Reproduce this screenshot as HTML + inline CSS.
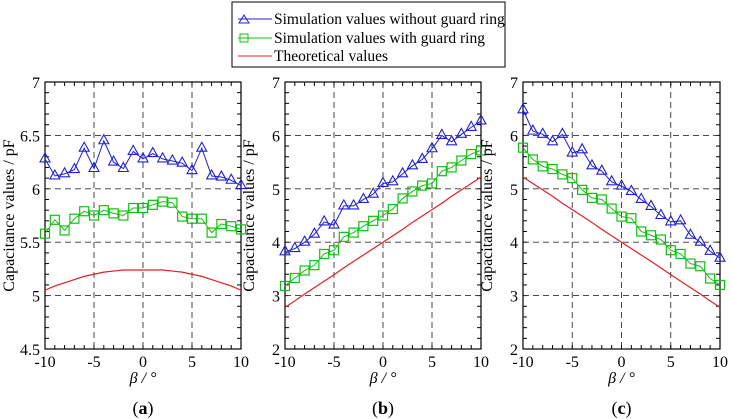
<!DOCTYPE html>
<html><head><meta charset="utf-8"><style>
body{margin:0;background:#fff}
svg{display:block;font-family:"Liberation Serif",serif}
</style></head><body>
<svg id="s" width="732" height="419">
<g>
<rect x="232" y="2" width="273" height="65" fill="#fff" stroke="#000" stroke-width="1"/>
<g>
<line x1="238" y1="19" x2="272" y2="19" stroke="#2020d0"/><path d="M244,15 L249,23 L239,23 Z" fill="none" stroke="#2020d0"/>
<text x="274" y="24" font-size="15.5">Simulation values without guard ring</text></g>
<g>
<line x1="238" y1="38" x2="272" y2="38" stroke="#10c010"/><rect x="240" y="34" width="8" height="8" fill="none" stroke="#10c010"/>
<text x="274" y="43" font-size="15.5">Simulation values with guard ring</text></g>
<g>
<line x1="238" y1="56" x2="272" y2="56" stroke="#e02020"/>
<text x="274" y="61" font-size="15.5">Theoretical values</text></g>
</g>
</svg>
<script>
const xs=[-10,-9,-8,-7,-6,-5,-4,-3,-2,-1,0,1,2,3,4,5,6,7,8,9,10];
const aBlue=[6.28,6.12,6.14,6.18,6.38,6.19,6.45,6.25,6.19,6.35,6.28,6.33,6.28,6.26,6.24,6.17,6.38,6.12,6.11,6.08,6.03];
const aGreen=[5.58,5.71,5.61,5.72,5.79,5.75,5.80,5.77,5.75,5.82,5.82,5.85,5.88,5.87,5.74,5.72,5.72,5.59,5.67,5.65,5.62];
const aRed=[5.05,5.09,5.12,5.15,5.18,5.20,5.22,5.23,5.24,5.24,5.24,5.24,5.24,5.23,5.22,5.20,5.18,5.15,5.12,5.09,5.05];
const bBlue=[3.82,3.88,4.0,4.15,4.38,4.32,4.68,4.68,4.8,4.9,5.1,5.13,5.28,5.43,5.55,5.75,6.0,5.88,6.02,6.15,6.27];
const bGreen=[3.18,3.33,3.47,3.57,3.78,3.85,4.1,4.18,4.3,4.4,4.5,4.62,4.82,4.95,5.06,5.1,5.33,5.4,5.53,5.65,5.72];
const bRed=[2.78,2.90,3.03,3.15,3.27,3.39,3.52,3.64,3.76,3.88,4.00,4.12,4.24,4.37,4.49,4.61,4.73,4.86,4.98,5.10,5.22];
const cBlue=[6.48,6.08,6.02,5.88,6.02,5.67,5.73,5.43,5.33,5.13,5.05,4.95,4.8,4.67,4.5,4.38,4.4,4.13,4.0,3.83,3.7];
const cGreen=[5.77,5.55,5.42,5.37,5.27,5.2,4.98,4.83,4.8,4.63,4.48,4.45,4.2,4.13,4.05,3.85,3.78,3.6,3.55,3.32,3.2];
const cRed=[5.22,5.10,4.98,4.86,4.73,4.61,4.49,4.37,4.24,4.12,4.00,3.88,3.76,3.64,3.52,3.39,3.27,3.15,3.03,2.90,2.78];
const xTicks=[-10,-5,0,5,10];
const aTicks=[4.5,5,5.5,6,6.5,7];
const bcTicks=[2,3,4,5,6,7];
const svg=document.getElementById('s');
const NS='http://www.w3.org/2000/svg';
function mk(t,a,p){const e=document.createElementNS(NS,t);for(const k in a)e.setAttribute(k,a[k]);p.appendChild(e);return e;}
function panel(id,L,R,ymin,ymax,yt,minorStep,blue,green,red,label){
  const T=82,B=349;
  const g=mk('g',{},svg);
  
  
  const X=v=>L+(v+10)/20*(R-L), Y=v=>B-(v-ymin)/(ymax-ymin)*(B-T);
  for(const t of xTicks){
    if(t>-10&&t<10){const l=mk('line',{x1:X(t),x2:X(t),y1:T,y2:B,stroke:'#333','stroke-dasharray':'6,4','stroke-width':0.9},g);}
    const tx=mk('text',{x:X(t),y:B+18,'text-anchor':'middle','font-size':16},g);tx.textContent=t;
    
  }
  for(let v=-10;v<=10;v++){mk('line',{x1:X(v),x2:X(v),y1:T,y2:T+4,stroke:'#000'},g);mk('line',{x1:X(v),x2:X(v),y1:B,y2:B-4,stroke:'#000'},g);}
  for(let v=ymin;v<=ymax+1e-9;v+=minorStep){mk('line',{x1:L,x2:L+4,y1:Y(v),y2:Y(v),stroke:'#000'},g);mk('line',{x1:R,x2:R-4,y1:Y(v),y2:Y(v),stroke:'#000'},g);}
  for(const t of yt){
    if(t>ymin&&t<ymax){const l=mk('line',{x1:L,x2:R,y1:Y(t),y2:Y(t),stroke:'#333','stroke-dasharray':'6,4','stroke-width':0.9},g);}
    const tx=mk('text',{x:L-5,y:Y(t)+6,'text-anchor':'end','font-size':16},g);tx.textContent=t;
    
  }
  const fr=mk('rect',{x:L,y:T,width:R-L,height:B-T,fill:'none',stroke:'#000','stroke-width':1.2},g);
  
  const rl=mk('polyline',{points:xs.map((x,i)=>X(x)+','+Y(red[i])).join(' '),fill:'none',stroke:'#e02020','stroke-width':1.2},g);
  
  const gl=mk('polyline',{points:xs.map((x,i)=>X(x)+','+Y(green[i])).join(' '),fill:'none',stroke:'#10c010','stroke-width':1},g);
  
  xs.forEach((x,i)=>{const m=mk('rect',{x:X(x)-4.5,y:Y(green[i])-4.5,width:9,height:9,fill:'none',stroke:'#10c010','stroke-width':1.2},g);
    });
  const bl=mk('polyline',{points:xs.map((x,i)=>X(x)+','+Y(blue[i])).join(' '),fill:'none',stroke:'#2020d0','stroke-width':1},g);
  
  xs.forEach((x,i)=>{const cx=X(x),cy=Y(blue[i]);const m=mk('path',{d:`M${cx},${cy-6} L${cx+5},${cy+3} L${cx-5},${cy+3} Z`,fill:'none',stroke:'#2020d0','stroke-width':1.1},g);
    });
  const yl=mk('text',{x:0,y:0,transform:`translate(${L-31},${(T+B)/2}) rotate(-90)`,'text-anchor':'middle','font-size':16},g);yl.textContent='Capacitance values / pF';
  
  const xl=mk('text',{x:(L+R)/2,y:383,'text-anchor':'middle','font-size':16,'font-style':'italic'},g);xl.textContent='β / °';
  
  const pl=mk('text',{x:(L+R)/2,y:414,'text-anchor':'middle','font-size':18},g);pl.innerHTML='(<tspan font-weight="bold">'+label+'</tspan>)';
  
}
panel('a',45,241,4.5,7,aTicks,0.1,aBlue,aGreen,aRed,'a');
panel('b',285,481,2,7,bcTicks,0.2,bBlue,bGreen,bRed,'b');
panel('c',523,720,2,7,bcTicks,0.2,cBlue,cGreen,cRed,'c');
</script>
</body></html>
